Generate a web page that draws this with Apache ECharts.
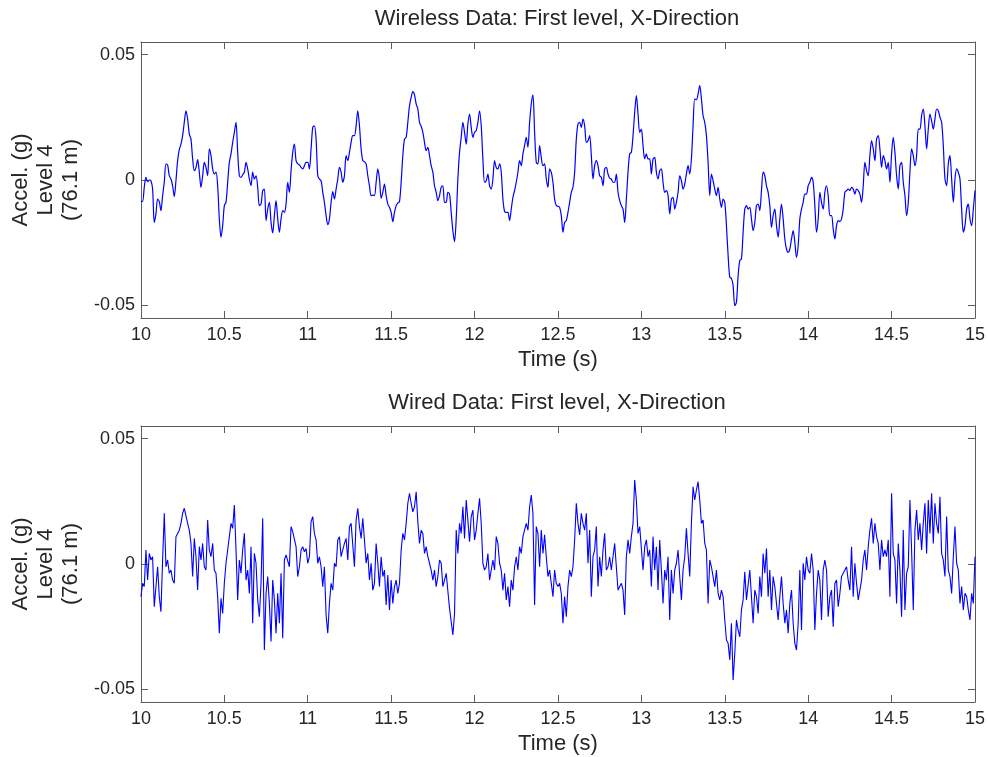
<!DOCTYPE html>
<html>
<head>
<meta charset="utf-8">
<script src="https://cdn.jsdelivr.net/npm/echarts@6/dist/echarts.min.js"></script>
<style>
  html, body { margin: 0; padding: 0; background: #ffffff; }
  #chart { width: 988px; height: 757px; }
</style>
</head>
<body>
<div id="chart"></div>
<script>
// Sampling: one reading every 0.01 s starting at t = 10 s
const startTime = 10;
const sampleStep = 0.01;

// Axis ticks
const timeTicks = { min: 10, max: 15, interval: 0.5 };
const accelTicks = [-0.05, 0, 0.05];
const accelRange = { min: -0.055, max: 0.055 };

const panelTitles = [
  'Wireless Data: First level, X-Direction',
  'Wired Data: First level, X-Direction'
];
const timeLabel = 'Time (s)';
const accelLabel = 'Accel. (g)\nLevel 4\n(76.1 m)';

// Wireless sensor, level 4, X acceleration (milli-g)
const wirelessMilliG = [
  -8.5, -8.5, -2.9, 1.1, -0.7, 0, -0.3, -3.6, -16.9, -13.5,
  -7.6, -8.6, -12.2, -6.2, -0.9, 6.4, 6.0, 1.7, 0.4, -2.3,
  -6.6, -0.3, 7.7, 12.1, 14.3, 17.7, 23.0, 27.6, 24.3, 18.3,
  16.3, 8.4, 3.7, 5.0, 8.1, 3.1, -2.9, 1.7, 7.0, 5.0,
  1.7, 12.4, 9.7, 4.4, 2.4, 3.1, -2.3, -15.5, -22.8, -18.2,
  -10.2, -8.9, -0.9, 7.0, 10.4, 15.0, 19.0, 23.0, 11.0, 1.7,
  1.1, 2.1, 3.1, 7.0, 4.4, 0.4, -2.3, 3.1, 0.4, 1.7,
  -2.9, -10.2, -9.6, -4.2, -3.6, -16.2, -11.6, -8.9, -16.9, -21.1,
  -14.2, -8.2, -15.5, -20.8, -15.5, -12.2, -12.9, -9.6, -0.9, -4.9,
  3.7, 11.0, 14.3, 7.7, 6.4, 6.0, 5.0, 4.4, 5.7, 7.0,
  7.0, 4.4, 12.4, 21.0, 21.6, 16.3, 1.7, 0.4, -0.3, -4.9,
  -8.9, -14.2, -17.8, -15.5, -8.9, -4.6, -7.6, -3.6, 0.4, 5.0,
  3.1, -0.9, 1.7, 9.7, 7.7, 11.0, 15.0,
  17.7, 17.7, 21.6, 27.6, 21.6, 12.4, 7.7, 7.3, 6.4, 1.7,
  -2.3, -6.2, -6.0, -6.2, -0.9, 4.4, 0.4, -7.3, -4.9, -1.6,
  -6.2, -9.6, -10.9, -12.9, -16.6, -12.9, -10.2, -9.2, -8.6, -0.9,
  9.7, 16.3, 17.0, 23.0, 29.6, 32.9, 35.2, 33.9, 30.3, 28.3,
  23.0, 21.4, 19.0, 15.0, 11.7, 13.0, 9.7, 5.7, 3.1, -2.3,
  -4.9, -8.2, -6.2, -2.9, -2.3, -8.9, -8.9, -4.9, -5.6, -12.9,
  -20.2, -24.6, -15.5, 0.4, 11.0, 17.0, 23.0, 19.0, 14.3, 22.3,
  26.3, 21.0, 17.0, 19.0, 19.7, 23.0, 27.6, 21.6, 8.4, -0.9,
  -0.3, 2.4, -2.3, -3.6, 0.4, 7.7, 5.0, 4.4, 6.4, 3.1,
  -7.6, -12.6, -12.9, -12.9, -16.2, -11.6, -6.9, -4.2, -0.9, 3.1,
  7.7, 5.7, 10.4, 13.7, 17.0, 13.0, 23.0, 30.3, 33.9, 19.0,
  7.0, 6.4, 13.7, 9.0, 5.7, 6.4, 0.4, -2.9, 4.4, 3.1,
  -0.9, -7.6, -10.2, -10.5, -10.9, -14.2,
  -20.8, -16.9, -16.2, -12.9, -8.9, -4.9, -2.9, 3.1, 16.3, 22.3,
  23.0, 21.0, 24.3, 21.6, 15.0, 15.6, 17.7, 9.7, 0.4, 5.7,
  7.7, 5.7, 1.7, 1.1, -2.3, 4.4, 5.0, 2.4, 0.7, 0.4,
  -0.9, -0.9, 2.4, -4.9, -8.2, -10.2, -11.6, -16.9, -7.6, 3.1,
  10.4, 11.0, 17.7, 27.0, 33.6, 26.3, 19.0, 20.3, 13.7, 8.4,
  10.4, 8.4, 8.4, 2.4, 8.4, 9.0, 3.1, 0.4, 3.7, 4.4,
  -0.9, -4.9, -4.2, -6.2, -13.5, -7.6, -6.9, -11.6, -8.9, -4.9,
  1.7, -0.3, -3.6, -1.6, 2.4, 5.7, 2.4, 8.4, 21.6, 32.3,
  32.0, 34.3, 37.6, 32.3, 25.6, 23.0, 17.7, 7.0, -6.2, 2.4,
  -0.3, -3.6, -6.2, -2.9, -7.6, -10.9, -7.6, -8.9, -18.2, -30.1,
  -38.8, -39.2, -42.1, -50.1, -48.7, -38.1, -32.1, -31.5, -20.8, -11.6,
  -10.2, -11.6, -10.9, -15.5, -20.2, -16.9, -10.2, -9.6, -12.2, -4.2,
  3.1, 1.7, -2.3, -4.9, -10.2,
  -18.9, -14.2, -11.6, -18.2, -22.8, -15.5, -9.6, -15.5, -23.5, -27.5,
  -28.8, -27.5, -23.5, -20.2, -24.8, -30.8, -26.2, -15.5, -11.6, -8.9,
  -5.6, -5.6, -2.3, -0.9, 1.1, -0.9, -10.2, -20.8, -15.5, -4.9,
  -8.9, -11.6, -4.9, -2.3, -6.2, -14.2, -14.2, -19.5, -23.5, -18.2,
  -16.2, -16.6, -15.5, -11.6, -4.9, -4.2, -3.6, -4.2, -2.9, -3.6,
  -5.6, -3.6, -4.2, -5.6, -8.9, -2.3, 7.0, 3.7, 1.7, 9.7,
  15.7, 12.4, 7.7, 16.3, 17.7, 12.4, 5.0, 9.7, 7.7, 4.4,
  7.0, -0.9, 10.4, 17.0, 11.0, 1.7, -3.6, 5.7, 7.0, -0.9,
  -6.2, -14.2, -8.9, 3.1, 12.4, 9.7, 5.7, 9.7, 20.3, 20.3,
  25.6, 28.3, 21.6, 12.4, 20.3, 26.3, 23.6, 20.3, 24.3, 28.3,
  27.6, 25.0, 23.0, 13.7, 0.4, -2.3, 6.4, 9.7, 0.4, -8.9,
  0.4, 4.4, 3.1, 0.4, -11.6, -20.8, -18.2, -11.6, -9.6, -15.5,
  -18.2, -11.6, -4.2
];

// Wired sensor, level 4, X acceleration (milli-g)
const wiredMilliG = [
  -13.0, -7.7, -9.0, 5.6, -6.4, 4.2, 1.6, 2.9, -17.0, -17.7,
  -1.1, -13.0, -19.0, 1.6, 20.2, -1.1, 1.6, -3.7, -2.4, -6.4,
  -7.7, 10.9, 12.2, 13.5, 16.2, 20.2, 22.2, 22.8, 16.2, 13.5,
  8.2, -5.0, 10.2, 2.9, -10.4, 6.9, 1.6, 8.2, -1.1, -2.4,
  17.5, 5.6, 2.9, 8.2, -2.4, -3.7, -13.0, -27.6, -13.7, -19.7,
  -7.7, 0.3, 5.6, 10.9, 16.2, 14.2, 23.5, 5.6, -14.3, 1.6,
  -3.7, 5.6, 12.2, -6.4, -2.4, -11.7, 6.9, -23.6, 4.2, 0.3,
  -14.3, -21.0, -7.7, 18.2, -34.3, -11.7, -5.0, -15.7, -30.9, -6.4,
  -14.3, -27.6, -11.7, -23.6, -3.7, -29.6, 1.6, 3.6, 2.9, -1.1,
  14.9, 12.9, 13.5, 6.9, -5.0, -1.1, 5.6, 6.9, 4.9, 6.2,
  0.3, 2.9, 16.9, 18.9, 12.2, 9.6, 0.3, 2.9, -1.1, -9.0,
  -1.1, -20.3, -27.6, -15.7, -7.7, -10.4, 0.3, -1.1, 9.6, 10.9,
  2.9, 5.6, 8.2, 10.2, 1.6, 14.9, 16.2,
  16.2, -1.1, 17.5, 22.2, 14.9, 10.2, 18.2, 9.6, 0.3, 4.2,
  -6.4, 0.3, -10.4, -7.7, 8.2, 0.3, -9.0, 2.9, -5.0, -2.4,
  -16.3, -4.4, -18.3, -6.4, -15.7, -9.0, -6.4, -11.7, -7.7, 5.6,
  12.2, 9.6, 16.2, 24.2, 28.2, 24.2, 20.8, 22.8, 28.8, 16.9,
  8.2, 13.5, 12.2, 4.2, 6.9, 2.9, 0.3, -2.4, -6.4, -2.4,
  -9.0, -5.0, 1.6, 0.3, -9.0, -6.4, -3.7, -3.1, -17.7, -18.3,
  -28.3, -19.7, 13.5, 4.2, 16.2, 12.2, 22.8, 10.2, 25.5, 17.5,
  8.9, 18.9, 21.5, 9.6, 13.5, 20.2, 26.2, 16.2, 0.3, -2.4,
  -1.1, 4.2, -6.4, -2.4, 1.6, -2.4, 10.9, 8.2, 0.3, -2.4,
  -10.4, -3.7, -14.3, -9.0, -17.0, -6.4, -10.4, -1.1, 2.9, -2.4,
  6.9, 4.2, 10.9, 10.2, 16.2, 13.5, 22.8, 27.5, 20.2, -16.3,
  14.9, 12.2, -1.1, 13.5, 4.2, 11.6, 2.9, -5.0, -2.4, -7.7,
  -13.0, -2.4, -7.7, -9.0, -7.7, -11.7,
  -23.6, -13.0, -21.0, -9.0, -2.4, -5.0, -1.1, 9.6, 24.2, 16.2,
  11.6, 20.2, 16.2, 13.5, 20.2, 0.3, 13.5, -13.0, 2.9, 5.6,
  14.9, -9.0, 2.9, -5.0, 5.6, 12.2, -2.4, -1.1, 2.9, -2.4,
  2.9, 8.2, -1.1, -10.4, -9.0, -7.7, -10.4, -20.3, 2.9, 9.6,
  4.2, 10.9, 16.2, 33.5, 25.5, 12.2, 14.9, 14.9, -2.4, 6.9,
  9.6, 2.9, 5.6, -9.0, 10.9, -2.4, 6.9, -10.4, 9.6, -2.4,
  -15.7, -2.4, -6.4, 2.9, -22.3, -2.4, -11.7, -2.4, 0.3, 5.6,
  -5.0, -14.3, -2.4, 2.9, 14.2, 4.2, -5.0, 16.2, 30.8, 25.5,
  29.5, 32.8, 25.5, 16.2, 17.5, 8.2, 5.6, -15.7, 1.6, -1.1,
  -5.0, -9.0, -2.4, -11.7, -14.3, -10.4, -13.0, -22.3, -30.3, -31.6,
  -38.2, -23.6, -46.2, -35.6, -22.3, -26.3, -29.0, -18.3, -14.3, -3.1,
  -14.3, -14.3, -2.4, -13.0, -23.6, -10.4, -13.0, -19.7, -5.0, -13.0,
  4.2, -3.7, 6.2, -13.0, -2.4,
  -18.3, -5.0, -9.0, -15.7, -22.3, -13.0, -5.0, -15.7, -23.6, -18.3,
  -27.6, -15.7, -10.4, -23.6, -31.6, -34.3, -23.6, -2.4, -26.3, 0.3,
  -6.4, 2.9, -2.4, -3.7, 4.2, -2.4, -26.3, -11.7, -2.4, -6.4,
  -22.3, -2.4, 1.6, -2.4, -21.0, -13.0, -10.4, -25.0, -7.7, -6.4,
  -17.0, -11.7, -5.0, -4.4, -2.4, -1.1, -6.4, -10.4, 6.9, -13.0,
  0.3, -7.7, -14.3, -10.4, -6.4, 1.6, 5.6, -2.4, 6.9, 13.5,
  18.2, 8.2, 16.2, 10.9, 8.2, -2.4, 9.6, 2.9, 5.6, 2.9,
  9.6, -13.0, 28.2, 4.2, 1.6, -15.7, 8.2, -2.4, -21.0, 13.5,
  -18.3, -3.7, -1.1, 25.5, 5.6, -18.3, 13.5, 21.5, 9.6, 16.2,
  5.6, 16.2, 24.2, 4.2, 25.5, 12.2, 28.2, 8.2, 24.2, 16.2,
  12.2, 26.8, 4.2, 1.6, -5.0, 18.9, -2.4, -5.0, -11.7, 2.9,
  14.9, 0.3, -2.4, -15.7, -9.0, -18.3, -11.7, -13.0, -18.3, -22.3,
  -11.7, -15.7, 2.9
];

// [time (s), acceleration (g)] pairs for the line series
function toTimeSeries(milliG) {
  return milliG.map((v, i) => [+(startTime + i * sampleStep).toFixed(2), v / 1000]);
}

const FONT = '"Liberation Sans", Arial, Helvetica, sans-serif';
const TEXT_COLOR = '#262626';
const FRAME_COLOR = '#5c5c5c';
const LINE_COLOR = '#0000ff';

const grids = [
  { left: 140, top: 42, width: 835, height: 276 },
  { left: 140, top: 426, width: 835, height: 276 }
];

const frameLine = { show: true, onZero: false, lineStyle: { color: FRAME_COLOR, width: 1 } };
const innerTick = { show: true, inside: true, length: 7, lineStyle: { color: FRAME_COLOR, width: 1 } };

const xAxes = [];
const yAxes = [];
grids.forEach((g, gi) => {
  // bottom time axis with labels
  xAxes.push({
    type: 'value', gridIndex: gi, position: 'bottom',
    min: timeTicks.min, max: timeTicks.max, interval: timeTicks.interval,
    axisLine: frameLine, axisTick: innerTick, splitLine: { show: false },
    axisLabel: { show: true, margin: 8, fontSize: 18, color: TEXT_COLOR, fontFamily: FONT },
    name: timeLabel, nameLocation: 'middle', nameGap: 31,
    nameTextStyle: { fontSize: 22, color: TEXT_COLOR, fontFamily: FONT }
  });
  // top mirror for the box frame
  xAxes.push({
    type: 'value', gridIndex: gi, position: 'top',
    min: timeTicks.min, max: timeTicks.max, interval: timeTicks.interval,
    axisLine: frameLine, axisTick: innerTick, splitLine: { show: false },
    axisLabel: { show: false }
  });
  // left acceleration axis with labels
  yAxes.push({
    type: 'value', gridIndex: gi, position: 'left',
    min: accelRange.min, max: accelRange.max,
    axisLine: frameLine,
    axisTick: Object.assign({}, innerTick, { customValues: accelTicks }),
    splitLine: { show: false },
    axisLabel: { show: true, margin: 6, fontSize: 18, color: TEXT_COLOR, fontFamily: FONT,
                 customValues: accelTicks },
    name: accelLabel, nameLocation: 'middle', nameRotate: 90, nameGap: 52,
    nameTextStyle: { fontSize: 22, lineHeight: 25, color: TEXT_COLOR, fontFamily: FONT, align: 'center' }
  });
  // right mirror
  yAxes.push({
    type: 'value', gridIndex: gi, position: 'right',
    min: accelRange.min, max: accelRange.max,
    axisLine: frameLine,
    axisTick: Object.assign({}, innerTick, { customValues: accelTicks }),
    splitLine: { show: false },
    axisLabel: { show: false }
  });
});

const chart = echarts.init(document.getElementById('chart'), null, { renderer: 'canvas' });
chart.setOption({
  animation: false,
  backgroundColor: '#ffffff',
  title: [
    { text: panelTitles[0], left: 552, top: 3, textAlign: 'center',
      textStyle: { fontSize: 22, fontWeight: 'normal', color: TEXT_COLOR, fontFamily: FONT } },
    { text: panelTitles[1], left: 552, top: 387, textAlign: 'center',
      textStyle: { fontSize: 22, fontWeight: 'normal', color: TEXT_COLOR, fontFamily: FONT } }
  ],
  grid: grids,
  xAxis: xAxes,
  yAxis: yAxes,
  series: [
    { type: 'line', xAxisIndex: 0, yAxisIndex: 0, data: toTimeSeries(wirelessMilliG),
      showSymbol: false, silent: true, smooth: 0.3,
      lineStyle: { color: LINE_COLOR, width: 1.2 } },
    { type: 'line', xAxisIndex: 2, yAxisIndex: 2, data: toTimeSeries(wiredMilliG),
      showSymbol: false, silent: true, lineStyle: { color: LINE_COLOR, width: 1.1 } }
  ]
});
</script>
</body>
</html>
